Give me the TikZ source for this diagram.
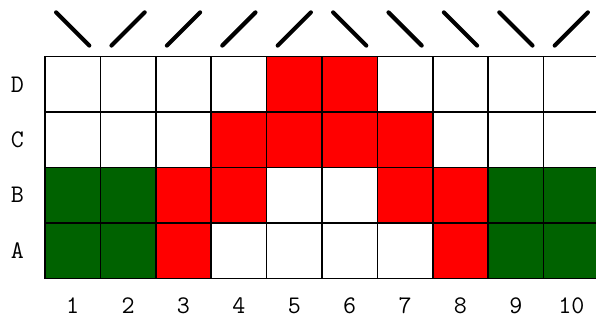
\documentclass[tikz,border=0pt]{standalone}
\usetikzlibrary{positioning}
\definecolor{R}{RGB}{255,0,0}
\definecolor{G}{RGB}{0,98,0}
\definecolor{W}{RGB}{255,255,255}
\begin{document}
\begin{tikzpicture}[x=1cm,y=1cm,
  cellbox/.style={draw=black,line width=0.8pt,minimum size=1cm,inner sep=0pt,outer sep=0pt,anchor=center},
  lbl/.style={font=\fontsize{13}{15}\selectfont\ttfamily,inner sep=0pt},
  mark stroke/.style={line width=2.1pt,line cap=round}]
\useasboundingbox (-0.812,-0.789) rectangle (9.946,5.023);
% row A
\foreach \fc [count=\c] in {G,G,R,W,W,W,W,R,G,G}
  \node[cellbox,fill=\fc] (cell-A-\c) at (\c-0.5,0.5) {};
% row B
\foreach \fc [count=\c] in {G,G,R,R,W,W,R,R,G,G}
  \node[cellbox,fill=\fc] (cell-B-\c) at (\c-0.5,1.5) {};
% row C
\foreach \fc [count=\c] in {W,W,W,R,R,R,R,W,W,W}
  \node[cellbox,fill=\fc] (cell-C-\c) at (\c-0.5,2.5) {};
% row D
\foreach \fc [count=\c] in {W,W,W,W,R,R,W,W,W,W}
  \node[cellbox,fill=\fc] (cell-D-\c) at (\c-0.5,3.5) {};
\foreach \rname [count=\r] in {A,B,C,D}
  \node[lbl] (row-\rname) at (-0.5,\r-0.5) {\rname};
\foreach \c in {1,...,10}
  \node[lbl] (col-\c) at (\c-0.5,-0.49) {\c};
% direction marks above the columns
\foreach \c/\d in {1/-1,2/1,3/1,4/1,5/1,6/-1,7/-1,8/-1,9/-1,10/1}
  \draw[mark stroke] (\c-0.5-0.3,4.5-0.3*\d) -- (\c-0.5+0.3,4.5+0.3*\d);
\end{tikzpicture}
\end{document}
